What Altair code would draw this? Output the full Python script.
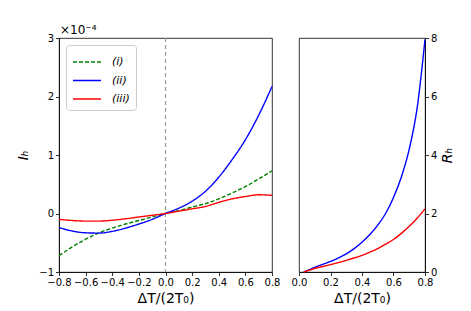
import altair as alt
import pandas as pd

# ---- data (values of I_h in units of 1e-4) ----
series = ["(i)", "(ii)", "(iii)"]
colors = ["#008000", "#0000ff", "#ff0000"]

x_left = [-0.8, -0.7, -0.6, -0.5, -0.4, -0.3, -0.2, -0.1, 0.0,
          0.1, 0.2, 0.3, 0.4, 0.5, 0.6, 0.7, 0.8]
ih_i = [-0.72, -0.57, -0.44, -0.33, -0.25, -0.18, -0.12, -0.06, 0.0,
        0.05, 0.11, 0.17, 0.25, 0.35, 0.46, 0.59, 0.73]
ih_ii = [-0.24, -0.30, -0.33, -0.335, -0.305, -0.25, -0.18, -0.10, 0.0,
         0.09, 0.21, 0.38, 0.62, 0.92, 1.26, 1.68, 2.17]
ih_iii = [-0.10, -0.12, -0.13, -0.13, -0.115, -0.09, -0.06, -0.03, 0.0,
          0.04, 0.08, 0.12, 0.19, 0.25, 0.29, 0.32, 0.31]

x_right = [0.03, 0.1, 0.2, 0.3, 0.35, 0.4, 0.45, 0.5, 0.55, 0.6, 0.65, 0.7, 0.75, 0.8]
rh_ii = [0.0, 0.16, 0.36, 0.62, 0.80, 1.02, 1.28, 1.60, 2.0, 2.55, 3.25, 4.2, 5.6, 7.95]
rh_iii = [0.0, 0.12, 0.25, 0.40, 0.48, 0.57, 0.68, 0.80, 0.95, 1.11, 1.32, 1.56, 1.84, 2.16]

xticks_left = [-0.8, -0.6, -0.4, -0.2, 0.0, 0.2, 0.4, 0.6, 0.8]
yticks_left = [-1, 0, 1, 2, 3]
xticks_right = [0.0, 0.2, 0.4, 0.6, 0.8]
yticks_right = [0, 2, 4, 6, 8]

rows = []
for name, vals in zip(series, [ih_i, ih_ii, ih_iii]):
    for x, v in zip(x_left, vals):
        rows.append({"x": x, "v": v, "s": name})
df_left = pd.DataFrame(rows)

rows = []
for name, vals in zip(series[1:], [rh_ii, rh_iii]):
    for x, v in zip(x_right, vals):
        rows.append({"x": x, "v": v, "s": name})
df_right = pd.DataFrame(rows)

FONT = "DejaVu Sans"

legend = alt.Legend(
    title=None, orient="top-left", offset=7, padding=6,
    strokeColor="#cccccc", fillColor="white", cornerRadius=3,
    symbolType="M-1.4,0L1.4,0", symbolSize=400, symbolStrokeWidth=1.5,
    symbolFillColor="transparent", symbolOffset=4,
    labelFontSize=11, labelFont=FONT, labelFontStyle="italic",
    rowPadding=2.5, labelOffset=14,
)
color_enc = alt.Color("s:N", scale=alt.Scale(domain=series, range=colors), legend=legend)
dash_enc = alt.StrokeDash("s:N", scale=alt.Scale(domain=series, range=[[4, 2], [1, 0], [1, 0]]), legend=legend)

ax_x_left = alt.Axis(values=xticks_left, format=".1f", title="ΔT/(2T₀)",
                     labelOverlap=False, labelFlush=False)
ax_y_left = alt.Axis(values=yticks_left, format="d", title="Iₕ", titleFontStyle="italic",
                     titlePadding=8, labelOverlap=False, labelFlush=False)
sc_x_left = alt.Scale(domain=[-0.8, 0.8], nice=False)
sc_y_left = alt.Scale(domain=[-1, 3], nice=False)

vline = alt.Chart(pd.DataFrame({"x": [0.0]})).mark_rule(
    color="#999999", strokeDash=[4, 3], strokeWidth=1.2
).encode(x=alt.X("x:Q", scale=sc_x_left, axis=ax_x_left))

lines_left = alt.Chart(df_left).mark_line(strokeWidth=1.4, interpolate="monotone").encode(
    x=alt.X("x:Q", scale=sc_x_left, axis=ax_x_left),
    y=alt.Y("v:Q", scale=sc_y_left, axis=ax_y_left),
    color=color_enc, strokeDash=dash_enc, order="x:Q"
)

exp_text = alt.Chart(pd.DataFrame({"x": [-0.8], "v": [3.0], "t": ["×10⁻⁴"]})).mark_text(
    align="left", baseline="bottom", dx=1, dy=-1, fontSize=12, font=FONT
).encode(
    x=alt.X("x:Q", scale=sc_x_left, axis=ax_x_left),
    y=alt.Y("v:Q", scale=sc_y_left, axis=ax_y_left),
    text="t:N",
)

left = alt.layer(vline, lines_left, exp_text).properties(width=213, height=234)

right = alt.Chart(df_right).mark_line(strokeWidth=1.4, interpolate="monotone").encode(
    x=alt.X("x:Q", scale=alt.Scale(domain=[0, 0.8], nice=False),
            axis=alt.Axis(values=xticks_right, format=".1f", title="ΔT/(2T₀)",
                          labelOverlap=False, labelFlush=False)),
    y=alt.Y("v:Q", scale=alt.Scale(domain=[0, 8], nice=False),
            axis=alt.Axis(values=yticks_right, format="d", title="Rₕ", orient="right",
                          titleAngle=270, titleBaseline="top", titleFontStyle="italic",
                          labelOverlap=False, labelFlush=False)),
    color=alt.Color("s:N", scale=alt.Scale(domain=series, range=colors), legend=None),
    order="x:Q",
).properties(width=126, height=234)

chart = alt.hconcat(left, right, spacing=27, bounds="flush").resolve_scale(
    color="independent", strokeDash="independent"
).properties(
    padding={"left": 8, "top": 15, "right": 5, "bottom": 5}
).configure_view(
    stroke="#000000", strokeWidth=0.8
).configure_axis(
    labelFont=FONT, titleFont=FONT, labelFontSize=10, titleFontSize=14,
    titleFontWeight="normal", labelColor="#000000", titleColor="#000000",
    domainColor="#000000", domainWidth=0.8, tickColor="#000000", tickWidth=0.8,
    tickSize=3.5, grid=False, labelPadding=2, titlePadding=4, labelOverlap=False,
)

chart.save("out.html", embed_options={"renderer": "svg", "actions": False})
